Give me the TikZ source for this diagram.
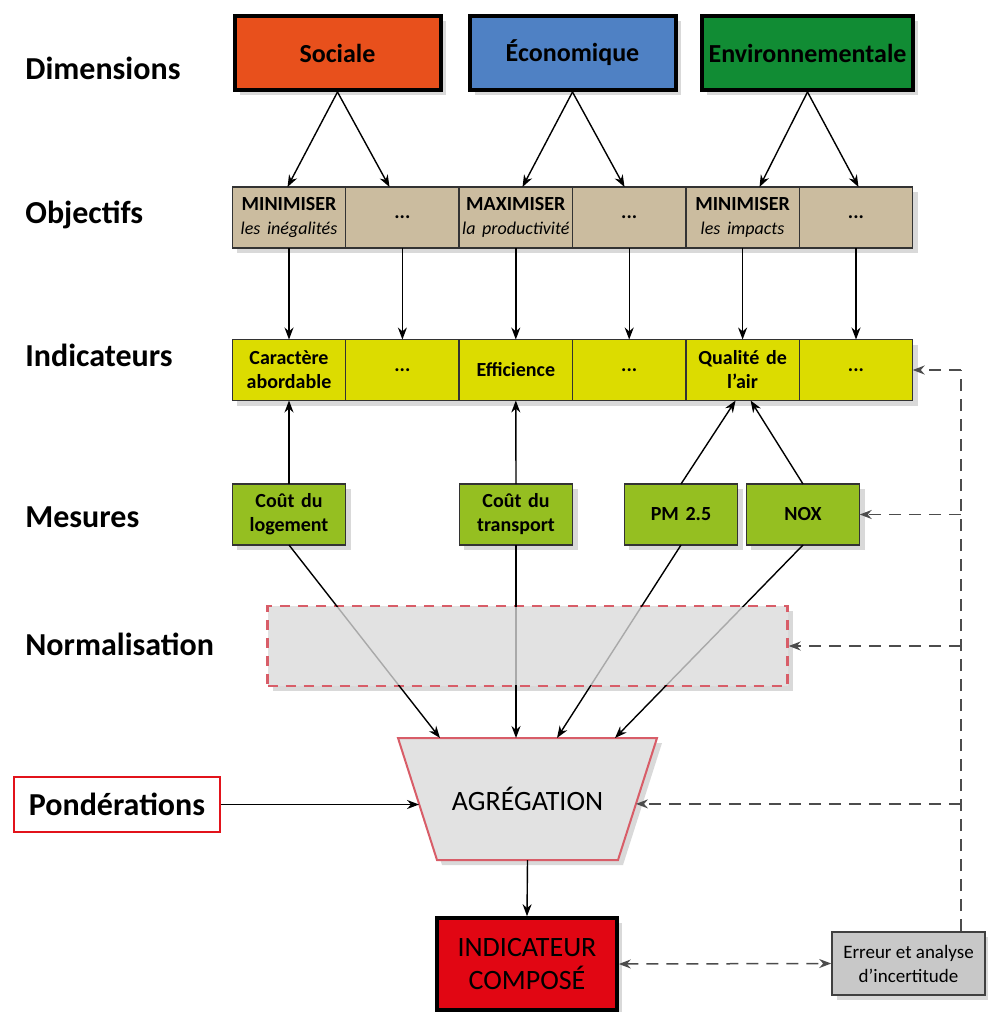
\documentclass[tikz,border=0pt]{standalone}
\usepackage{fontspec}
\setmainfont{Carlito}
\usetikzlibrary{positioning, arrows.meta, calc, shadows}

\definecolor{socColor}{HTML}{E8501C}
\definecolor{ecoColor}{HTML}{4F81C4}
\definecolor{envColor}{HTML}{118C34}
\definecolor{objColor}{HTML}{CBBC9F}
\definecolor{indColor}{HTML}{DCDC00}
\definecolor{mesColor}{HTML}{95BF21}
\definecolor{normFill}{HTML}{E2E2E2}
\definecolor{normLine}{HTML}{D85D68}
\definecolor{pondLine}{HTML}{E2131B}
\definecolor{compColor}{HTML}{E10613}
\definecolor{errFill}{HTML}{C8C8C8}

\tikzset{
    rowname/.style={anchor=west, inner sep=0pt, font=\fontsize{16}{19}\selectfont\bfseries},
    shade box/.style={drop shadow={opacity=0.3, shadow xshift=2.5pt, shadow yshift=-2.5pt}},
    dimbox/.style={draw=black, line width=2pt, minimum width=103pt, minimum height=37pt,
        font=\fontsize{13}{15}\selectfont\bfseries, shade box},
    cell/.style={draw=black!80, line width=0.7pt, outer sep=0pt, text width=54.7pt,
        minimum height=30.5pt, inner sep=1pt, align=center,
        font=\fontsize{10}{12}\selectfont\bfseries, shade box},
    obj/.style={cell, fill=objColor},
    ind/.style={cell, fill=indColor},
    mes/.style={cell, fill=mesColor},
    sub/.style={},
    arr/.style={-{Stealth[length=6pt, width=4.5pt]}, line width=0.7pt},
    dashline/.style={line width=0.75pt, draw=black!70, dash pattern=on 6pt off 4pt},
    dasharr/.style={dashline, -{Stealth[length=6pt, width=4.5pt]}},
}
\newcommand{\objsub}[1]{{\fontsize{9}{11}\selectfont\mdseries\itshape #1}}

\begin{document}
\begin{tikzpicture}[x=0.5pt, y=-0.5pt]
    \useasboundingbox (0,0) rectangle (987,1012);

    % row names
    \node[rowname] (lDim) at (25,68) {Dimensions};
    \node[rowname] (lObj) at (25,215) {Objectifs};
    \node[rowname] (lInd) at (25,355) {Indicateurs};
    \node[rowname] (lMes) at (25,517) {Mesures};
    \node[rowname] (lNorm) at (25,644) {Normalisation};

    % dimensions
    \node[dimbox, fill=socColor] (soc) at (337.5,53) {Sociale};
    \node[dimbox, fill=ecoColor] (eco) at (572.5,53) {Économique};
    \node[dimbox, fill=envColor] (env) at (807.5,53) {Environnementale};

    % objectifs
    \node[obj] (o1) at (289,217.5) {MINIMISER\\\objsub{les inégalités}};
    \node[obj, right=0pt of o1] (o2) {...};
    \node[obj, right=0pt of o2] (o3) {MAXIMISER\\\objsub{la productivité}};
    \node[obj, right=0pt of o3] (o4) {...};
    \node[obj, right=0pt of o4] (o5) {MINIMISER\\\objsub{les impacts}};
    \node[obj, right=0pt of o5] (o6) {...};

    % indicateurs
    \node[ind] (i1) at (289,370) {Caractère\\abordable};
    \node[ind, right=0pt of i1] (i2) {...};
    \node[ind, right=0pt of i2] (i3) {Efficience};
    \node[ind, right=0pt of i3] (i4) {...};
    \node[ind, right=0pt of i4] (i5) {Qualité de\\l’air};
    \node[ind, right=0pt of i5] (i6) {...};

    % mesures
    \node[mes] (lg) at (289,514.5) {Coût du\\logement};
    \node[mes] (tr) at (516,514.5) {Coût du\\transport};
    \node[mes] (pm) at (681,514.5) {PM 2.5};
    \node[mes] (nox) at (803,514.5) {NOX};

    % normalisation
    \node[draw=normLine, line width=1.2pt, dash pattern=on 5pt off 4pt, fill=normFill,
        minimum width=260pt, minimum height=40pt, shade box] (norm) at (527.5,646) {};

    % aggregation (trapezoid drawn by its corners)
    \coordinate (aggTL) at (398,738);
    \coordinate (aggTR) at (657,738);
    \coordinate (aggBR) at (618,860);
    \coordinate (aggBL) at (437,860);
    \draw[draw=normLine, line width=1pt, fill=normFill, shade box]
        (aggTL) -- (aggTR) -- (aggBR) -- (aggBL) -- cycle;
    \node[font=\fontsize{14}{16}\selectfont] (agg) at (527.5,799) {AGRÉGATION};
    \coordinate (aggW) at ($(aggTL)!0.54!(aggBL)$);
    \coordinate (aggE) at ($(aggTR)!0.54!(aggBR)$);
    \coordinate (aggS) at ($(aggBL)!0.5!(aggBR)$);

    \node[draw=pondLine, line width=1.2pt, fill=white, minimum width=103pt, minimum height=27.5pt,
        font=\fontsize{16}{19}\selectfont\bfseries] (pond) at (117,804.5) {Pondérations};
    \node[draw=black, line width=1.8pt, fill=compColor, minimum width=90pt, minimum height=46pt,
        align=center, font=\fontsize{14}{16.5}\selectfont, shade box] (comp) at (527,964) {INDICATEUR\\COMPOSÉ};
    \node[draw=black!75, line width=0.8pt, fill=errFill, minimum width=76.5pt, minimum height=31.5pt,
        align=center, font=\fontsize{9.5}{12}\selectfont, shade box] (err) at (908.5,963.5) {Erreur et analyse\\d’incertitude};

    % dimensions to objectifs
    \draw[arr] (soc.south) -- ($(soc.south |- o1.north)+(-50,0)$);
    \draw[arr] (soc.south) -- ($(soc.south |- o1.north)+(52,0)$);
    \draw[arr] (eco.south) -- ($(eco.south |- o1.north)+(-50,0)$);
    \draw[arr] (eco.south) -- ($(eco.south |- o1.north)+(52,0)$);
    \draw[arr] (env.south) -- ($(env.south |- o1.north)+(-48,0)$);
    \draw[arr] (env.south) -- ($(env.south |- o1.north)+(51,0)$);

    % objectifs to indicateurs
    \draw[arr] (o1.south) -- (i1.north);
    \draw[arr] (o2.south) -- (i2.north);
    \draw[arr] (o3.south) -- (i3.north);
    \draw[arr] (o4.south) -- (i4.north);
    \draw[arr] (o5.south) -- (i5.north);
    \draw[arr] (o6.south) -- (i6.north);

    % mesures to indicateurs
    \draw[arr] (lg.north) -- (i1.south);
    \draw[arr] (tr.north) -- (i3.south);
    \draw[arr] (pm.north) -- ($(i5.south)+(-7,0)$);
    \draw[arr] (nox.north) -- ($(i5.south)+(8,0)$);

    % mesures to aggregation
    \draw[arr] (lg.south) -- ($(aggTL)+(42,0)$);
    \draw[arr] (tr.south) -- (tr.south |- aggTL);
    \draw[arr] (pm.south) -- ($(aggTL)+(159,0)$);
    \draw[arr] (nox.south) -- ($(aggTL)+(217,0)$);
    \fill[normFill, opacity=0.75] ([shift={(2.5,-2.5)}]norm.south west) rectangle ([shift={(-2.5,2.5)}]norm.north east);

    \draw[arr] (pond.east) -- (pond.east -| aggW);
    \draw[arr] (aggS) -- (comp.north);

    % feedback from uncertainty analysis
    \coordinate (fbBot) at ($(err.north east)+(-25,0)$);
    \coordinate (fbTop) at (fbBot |- i6.east);
    \draw[dashline] (fbBot) -- (fbTop);
    \draw[dasharr] (fbTop) -- (i6.east);
    \draw[dasharr] (fbBot |- nox.east) -- (nox.east);
    \draw[dasharr] (fbBot |- norm.east) -- (norm.east);
    \draw[dasharr] (fbBot |- aggE) -- (aggE);
    \draw[dasharr, {Stealth[length=6pt, width=4.5pt]}-{Stealth[length=6pt, width=4.5pt]}] (comp.east) -- (err.west);
\end{tikzpicture}
\end{document}
